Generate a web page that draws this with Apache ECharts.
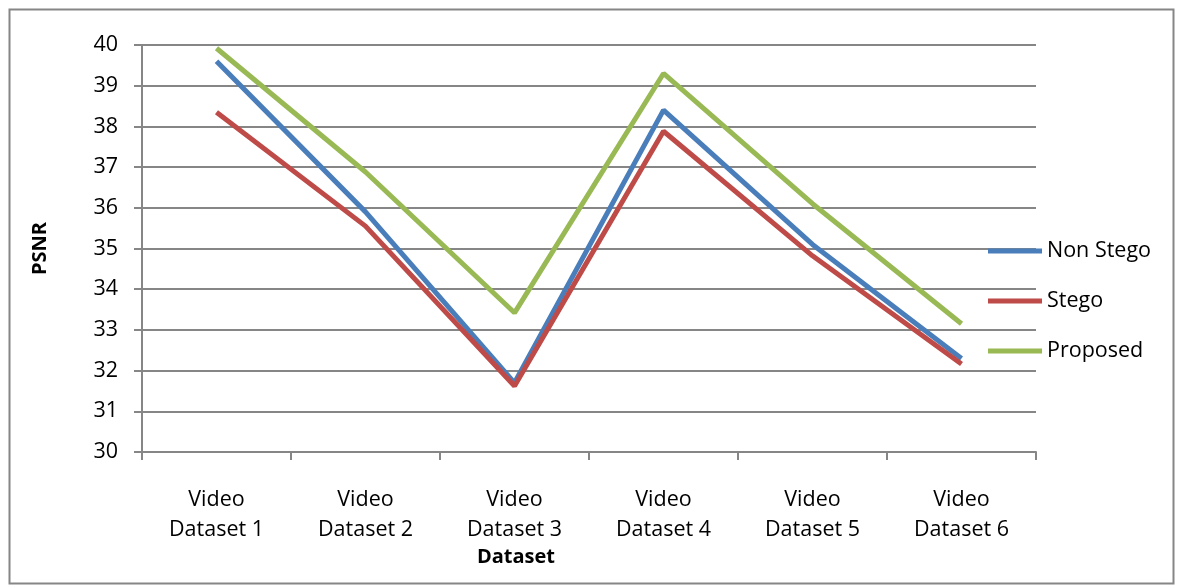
<!DOCTYPE html>
<html><head><meta charset="utf-8">
<script src="https://cdn.jsdelivr.net/npm/echarts@6/dist/echarts.min.js"></script>
<style>html,body{margin:0;padding:0;background:#fff}#c{width:1178px;height:588px}</style>
</head><body><div id="c"></div>
<script>
const categories = ["Video\nDataset 1","Video\nDataset 2","Video\nDataset 3","Video\nDataset 4","Video\nDataset 5","Video\nDataset 6"];
const nonStego = [39.6, 35.9, 31.7, 38.4, 35.1, 32.3];
const stego = [38.35, 35.55, 31.62, 37.88, 34.82, 32.16];
const proposed = [39.92, 36.88, 33.42, 39.3, 36.1, 33.15];
const yTicks = {min: 30, max: 40, interval: 1};

const font = "'Open Sans', sans-serif";
const chart = echarts.init(document.getElementById('c'));
chart.setOption({
  animation: false,
  grid: {left: 142, right: 142, top: 45, bottom: 136},
  legend: {
    orient: 'vertical', left: 983, top: 233, itemGap: 24,
    itemWidth: 54, itemHeight: 5, icon: 'rect',
    textStyle: {fontFamily: font, fontSize: 21.5, color: '#000', lineHeight: 26},
    data: ['Non Stego','Stego','Proposed']
  },
  xAxis: {
    type: 'category', data: categories, boundaryGap: true,
    axisLine: {lineStyle: {color: '#868686', width: 2}},
    axisTick: {show: true, length: 8, lineStyle: {color: '#868686', width: 2}},
    axisLabel: {fontFamily: font, fontSize: 21.5, color: '#000', margin: 33, lineHeight: 30}
  },
  yAxis: {
    type: 'value', min: yTicks.min, max: yTicks.max, interval: yTicks.interval,
    name: 'PSNR', nameLocation: 'middle', nameGap: 92, nameRotate: 90,
    nameTextStyle: {fontFamily: font, fontSize: 20, fontWeight: 'bold', color: '#000'},
    axisLine: {show: true, lineStyle: {color: '#868686', width: 2}},
    axisTick: {show: true, length: 8, lineStyle: {color: '#868686', width: 2}},
    axisLabel: {fontFamily: font, fontSize: 21.5, color: '#000', margin: 24},
    splitLine: {lineStyle: {color: '#868686', width: 2}}
  },
  graphic: [
    {type: 'rect', left: 7, top: 7, shape: {width: 1164, height: 574}, style: {fill: 'none', stroke: '#868686', lineWidth: 2}, silent: true},
    {type: 'text', x: 516, y: 557, style: {text: 'Dataset', font: 'bold 20px ' + font, fill: '#000', align: 'center', verticalAlign: 'middle'}}
  ],
  series: [
    {name: 'Non Stego', type: 'line', data: nonStego, symbol: 'none', lineStyle: {color: '#4A7EBB', width: 5}, itemStyle: {color: '#4A7EBB'}},
    {name: 'Stego', type: 'line', data: stego, symbol: 'none', lineStyle: {color: '#BE4B48', width: 5}, itemStyle: {color: '#BE4B48'}},
    {name: 'Proposed', type: 'line', data: proposed, symbol: 'none', lineStyle: {color: '#98B954', width: 5}, itemStyle: {color: '#98B954'}}
  ]
});
</script></body></html>
